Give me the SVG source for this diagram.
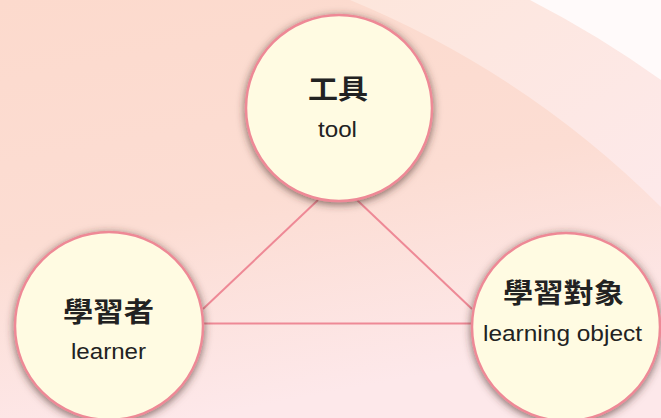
<svg xmlns="http://www.w3.org/2000/svg" width="661" height="418" viewBox="0 0 661 418">
  <defs>
    <linearGradient id="bg" x1="0" y1="0" x2="0.3" y2="1">
      <stop offset="0" stop-color="#fcdacd"/>
      <stop offset="0.55" stop-color="#fcddd3"/>
      <stop offset="1" stop-color="#fde8ea"/>
    </linearGradient>
    <linearGradient id="band" x1="0" y1="0" x2="1" y2="1">
      <stop offset="0" stop-color="#fde6dc"/>
      <stop offset="1" stop-color="#fde9ea"/>
    </linearGradient>
    <filter id="shadow" x="-20%" y="-20%" width="140%" height="140%">
      <feDropShadow dx="0" dy="2" stdDeviation="4.5" flood-color="#4a2e28" flood-opacity="0.7"/>
    </filter>
  </defs>
  <style>
    .node circle { fill: #fffbe2; stroke: #ee8996; stroke-width: 2.5; filter: url(#shadow); }
    .zh { font-family: "Liberation Sans", "Noto Sans CJK TC", sans-serif; font-size: 27px; font-weight: bold; fill: #222222; text-anchor: middle; }
    .en { font-family: "Liberation Sans", Arial, sans-serif; font-size: 22px; fill: #222222; text-anchor: middle; }
    .conn line { stroke: #ee8996; stroke-width: 2; }
  </style>

  <rect x="0" y="0" width="661" height="418" fill="url(#bg)"/>
  <path d="M 350 0 A 958 958 0 0 1 661 207 L 661 0 Z" fill="url(#band)"/>
  <path d="M 530 0 A 1045 1045 0 0 1 661 80 L 661 0 Z" fill="#fffafa"/>

  <g id="connectors" class="conn">
    <line x1="318" y1="200" x2="203" y2="309"/>
    <line x1="357" y1="200" x2="472" y2="309"/>
    <line x1="203" y1="323.5" x2="472" y2="323.5"/>
  </g>

  <g id="node-tool" class="node">
    <circle cx="339" cy="108" r="93"/>
    <text class="zh" x="338" y="99" textLength="60" lengthAdjust="spacingAndGlyphs">工具</text>
    <text class="en" x="337.5" y="137" textLength="39" lengthAdjust="spacingAndGlyphs">tool</text>
  </g>

  <g id="node-learner" class="node">
    <circle cx="109" cy="326" r="94"/>
    <text class="zh" x="108.5" y="322" textLength="91" lengthAdjust="spacingAndGlyphs">學習者</text>
    <text class="en" x="108.5" y="359" textLength="75" lengthAdjust="spacingAndGlyphs">learner</text>
  </g>

  <g id="node-object" class="node">
    <circle cx="566" cy="327" r="94"/>
    <text class="zh" x="563.5" y="303" textLength="121" lengthAdjust="spacingAndGlyphs">學習對象</text>
    <text class="en" x="562.5" y="341" textLength="159" lengthAdjust="spacingAndGlyphs">learning object</text>
  </g>
</svg>
